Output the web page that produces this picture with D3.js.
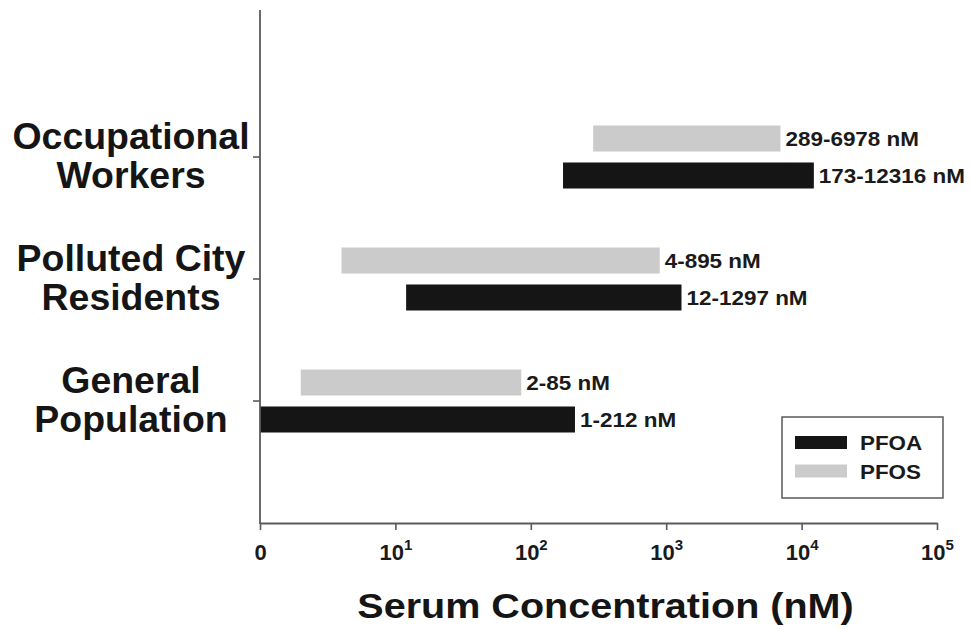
<!DOCTYPE html>
<html>
<head>
<meta charset="utf-8">
<script src="https://cdn.jsdelivr.net/npm/d3@7"></script>
<style>
  html, body { margin: 0; padding: 0; background: #fff; }
  svg { display: block; font-family: Arial, "Liberation Sans", sans-serif; }
</style>
</head>
<body>
<svg id="chart" width="971" height="629"></svg>
<script>
// ---- data ----
const categories = ["Occupational Workers", "Polluted City Residents", "General Population"];
const categoryLines = [["Occupational", "Workers"], ["Polluted City", "Residents"], ["General", "Population"]];
const series = ["PFOS", "PFOA"];
const pfosLow  = [289, 4, 2];
const pfosHigh = [6978, 895, 85];
const pfoaLow  = [173, 12, 1];
const pfoaHigh = [12316, 1297, 212];
const tickValues = [1, 10, 100, 1000, 10000, 100000];
const tickExponents = [null, 1, 2, 3, 4, 5];
const legendItems = ["PFOA", "PFOS"];
const xTitle = "Serum Concentration (nM)";

const colors = { PFOA: "#151515", PFOS: "#cbcbcb" };
const axisColor = "#5a5a5a";

const rows = [];
categories.forEach((c, i) => {
  rows.push({ cat: c, s: "PFOS", lo: pfosLow[i], hi: pfosHigh[i] });
  rows.push({ cat: c, s: "PFOA", lo: pfoaLow[i], hi: pfoaHigh[i] });
});

const svg = d3.select("#chart");
const plot = { left: 260, right: 937, top: 10, bottom: 523 };

const x = d3.scaleLog().domain([1, 100000]).range([plot.left, plot.right]);
const y = d3.scaleBand().domain(categories).range([96, 462]).padding(0);
const ySub = d3.scaleBand().domain(series).range([-31.5, 31.5]).paddingInner(0.297).paddingOuter(0);

// ---- bars ----
svg.append("g").selectAll("rect").data(rows).join("rect")
  .attr("x", d => x(d.lo))
  .attr("width", d => x(d.hi) - x(d.lo))
  .attr("y", d => y(d.cat) + y.bandwidth() / 2 + ySub(d.s))
  .attr("height", ySub.bandwidth())
  .attr("fill", d => colors[d.s]);

// ---- bar labels ----
svg.append("g").selectAll("text").data(rows).join("text")
  .attr("transform", d => `translate(${x(d.hi) + 5},${y(d.cat) + y.bandwidth() / 2 + ySub(d.s) + ySub.bandwidth() / 2 + 7.5}) scale(1.07,1)`)
  .attr("font-size", 21)
  .attr("font-weight", "bold")
  .attr("fill", "#1a1a1a")
  .text(d => `${d.lo}-${d.hi} nM`);

// ---- x axis ----
const xAxis = svg.append("g")
  .attr("transform", `translate(0,${plot.bottom})`)
  .call(d3.axisBottom(x).tickValues(tickValues).tickSize(7).tickSizeOuter(0).tickFormat(() => ""));
xAxis.select(".domain").attr("stroke", axisColor).attr("stroke-width", 1.8);
xAxis.selectAll(".tick line").attr("stroke", axisColor).attr("stroke-width", 1.6);
xAxis.selectAll(".tick").each(function (d, i) {
  const t = d3.select(this).append("text")
    .attr("y", 37)
    .attr("text-anchor", "middle")
    .attr("font-size", 22)
    .attr("font-weight", "bold")
    .attr("fill", "#1a1a1a");
  const e = tickExponents[i];
  if (e === null) {
    t.text("0");
  } else {
    t.append("tspan").text("10");
    t.append("tspan").attr("font-size", 15).attr("dy", -10).text(e);
  }
});

// ---- y axis ----
const yAxis = svg.append("g")
  .attr("transform", `translate(${plot.left},0)`)
  .call(d3.axisLeft(y).tickSize(7).tickSizeOuter(0).tickFormat(() => ""));
yAxis.select(".domain").remove();
yAxis.append("line")
  .attr("x1", 0).attr("x2", 0)
  .attr("y1", plot.top).attr("y2", plot.bottom + 1)
  .attr("stroke", axisColor).attr("stroke-width", 1.8);
yAxis.selectAll(".tick line").attr("stroke", axisColor).attr("stroke-width", 1.6);

// category labels
svg.append("g").selectAll("g").data(categories).join("g")
  .attr("transform", d => `translate(131,${y(d) + y.bandwidth() / 2})`)
  .each(function (d, i) {
    const g = d3.select(this);
    categoryLines[i].forEach((line, j) => {
      g.append("text")
        .attr("transform", `translate(0,${-8 + j * 39}) scale(1.04,1)`)
        .attr("text-anchor", "middle")
        .attr("font-size", 36)
        .attr("font-weight", "bold")
        .attr("fill", "#151515")
        .text(line);
    });
  });

// ---- x title ----
svg.append("text")
  .attr("transform", `translate(${(plot.left + plot.right) / 2 + 7},618) scale(1.13,1)`)
  .attr("text-anchor", "middle")
  .attr("font-size", 35)
  .attr("font-weight", "bold")
  .attr("fill", "#151515")
  .text(xTitle);

// ---- legend ----
const legend = svg.append("g").attr("transform", "translate(782,417)");
legend.append("rect")
  .attr("width", 161).attr("height", 81)
  .attr("fill", "#fff").attr("stroke", axisColor).attr("stroke-width", 1.5);
const li = legend.selectAll("g.item").data(legendItems).join("g")
  .attr("class", "item")
  .attr("transform", (d, i) => `translate(0,${i * 28.5})`);
li.append("rect")
  .attr("x", 13).attr("y", 19).attr("width", 52).attr("height", 13)
  .attr("fill", d => colors[d]);
li.append("text")
  .attr("transform", "translate(78,33) scale(1.12,1)")
  .attr("font-size", 20)
  .attr("font-weight", "bold")
  .attr("fill", "#1a1a1a")
  .text(d => d);
</script>
</body>
</html>
